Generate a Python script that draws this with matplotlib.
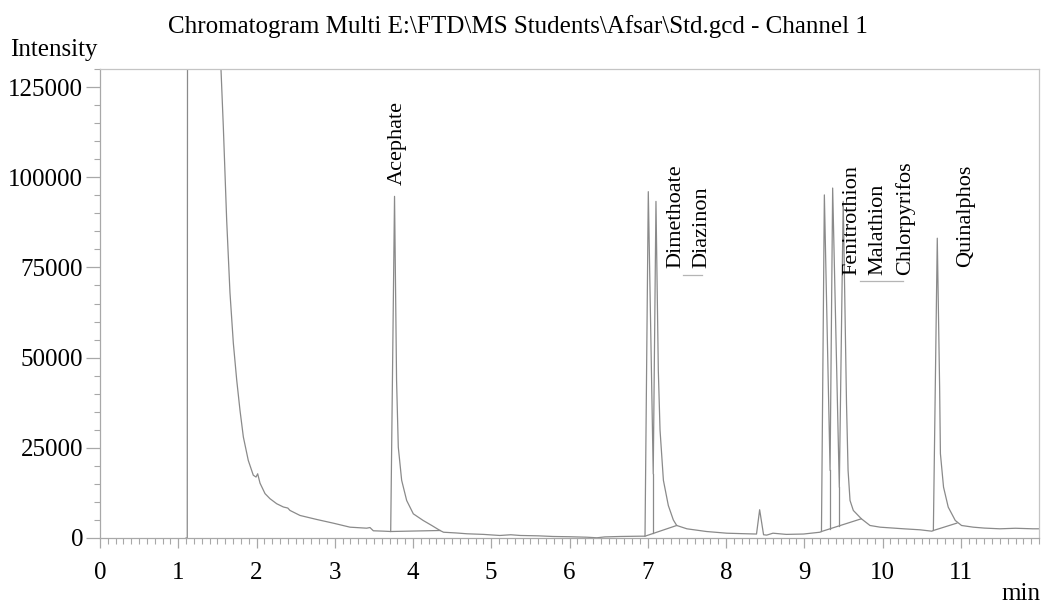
import matplotlib
matplotlib.use("Agg")
import matplotlib.pyplot as plt
from matplotlib.ticker import MultipleLocator

plt.rcParams["font.family"] = ["Liberation Serif", "DejaVu Serif"]

# trace: retention time (min) and detector intensity
times = [
    1.10, 1.115, 1.12, 1.53, 1.546, 1.576, 1.619, 1.661, 1.704, 1.747,
    1.789, 1.832, 1.895, 1.959, 1.994, 2.015, 2.045, 2.109, 2.172, 2.258,
    2.343, 2.40, 2.428, 2.556, 2.769, 2.98, 3.195, 3.408, 3.45, 3.493,
    3.62, 3.715, 3.764, 3.79, 3.812, 3.855, 3.919, 4.004, 4.13, 4.24,
    4.345, 4.39, 4.55, 4.69, 4.9, 5.11, 5.25, 5.37, 5.6, 5.79,
    6.0, 6.22, 6.35, 6.45, 6.645, 6.90, 6.965, 7.007, 7.07, 7.105,
    7.135, 7.157, 7.2, 7.263, 7.327, 7.37, 7.5, 7.75, 8.01, 8.26,
    8.39, 8.43, 8.48, 8.52, 8.6, 8.77, 8.99, 9.2, 9.22, 9.257,
    9.33, 9.363, 9.448, 9.498, 9.54, 9.56, 9.585, 9.627, 9.73, 9.84,
    9.97, 10.27, 10.48, 10.63, 10.65, 10.70, 10.73, 10.74, 10.78, 10.84,
    10.93, 11.01, 11.16, 11.3, 11.5, 11.7, 11.92, 12.0,
]
intensity = [
    0, 0, 200000, 200000, 130000, 114000, 88000, 68000, 54000, 43800,
    35400, 28000, 21500, 17400, 16900, 17800, 15200, 12300, 10900, 9500,
    8600, 8300, 7640, 6250, 5140, 4120, 3000, 2720, 2900, 2000,
    1900, 1800, 94700, 43750, 25200, 16000, 10400, 6700, 4860, 3470,
    2080, 1600, 1400, 1170, 1000, 700, 900, 700, 600, 420,
    350, 220, 60, 300, 420, 500, 500, 96000, 17800, 93300,
    46500, 29900, 16000, 9000, 5000, 3470, 2550, 1800, 1330, 1170,
    1100, 7830, 900, 800, 1330, 1000, 1100, 1600, 1800, 95100,
    18750, 97000, 14100, 93300, 37300, 18750, 10400, 7640, 5330, 3470,
    3000, 2550, 2270, 1890, 2080, 83100, 41900, 23400, 14100, 8560,
    4860, 3470, 3000, 2750, 2550, 2700, 2550, 2550,
]

# integration baselines (start, end) and peak drop lines (time, top)
baselines = [
    ((3.715, 1800), (4.345, 2080)),
    ((6.965, 500), (7.37, 3470)),
    ((9.22, 1800), (9.73, 5330)),
    ((10.65, 2080), (10.95, 4120)),
]
drop_times = [7.07, 9.33, 9.448]
drop_tops = [17800, 18750, 14100]

# peak names and where their text sits
peak_names = ["Acephate", "Dimethoate", "Diazinon", "Fenitrothion",
              "Malathion", "Chlorpyrifos", "Quinalphos"]
label_x = [3.80, 7.36, 7.69, 9.61, 9.94, 10.29, 11.065]
label_y = [97900, 74900, 74900, 72900, 72900, 72900, 75200]
leaders = [((7.45, 7.69), 73000), ((9.71, 10.26), 71300)]

trace_col = "#8a8a8a"
frame_col = "#a8a8a8"

fig = plt.figure(figsize=(10.42, 6.06), dpi=100)
ax = fig.add_axes([100 / 1042, 68 / 606, 939 / 1042, 469 / 606])

ax.plot(times, intensity, color=trace_col, lw=0.9)
for (x0, y0), (x1, y1) in baselines:
    ax.plot([x0, x1], [y0, y1], color=trace_col, lw=0.9)
for t, top in zip(drop_times, drop_tops):
    # find baseline height under the drop line
    for (x0, y0), (x1, y1) in baselines:
        if x0 <= t <= x1:
            base = y0 + (y1 - y0) * (t - x0) / (x1 - x0)
    ax.plot([t, t], [base, top], color=trace_col, lw=0.9)
for (x0, x1), y in leaders:
    ax.plot([x0, x1], [y, y], color="#b5b5b5", lw=0.9)

for name, x, y in zip(peak_names, label_x, label_y):
    ax.text(x, y, name, rotation=90, ha="center", va="bottom", fontsize=16)

ax.set_xlim(0, 12)
ax.set_ylim(0, 130000)
ax.set_xticks(range(0, 12))
ax.set_yticks([0, 25000, 50000, 75000, 100000, 125000])
ax.xaxis.set_minor_locator(MultipleLocator(0.1))
ax.yaxis.set_minor_locator(MultipleLocator(5000))

for side in ["top", "right"]:
    ax.spines[side].set_color("#c4c4c4")
for side in ["left", "bottom"]:
    ax.spines[side].set_color(frame_col)
for sp in ax.spines.values():
    sp.set_linewidth(0.9)

ax.tick_params(axis="y", which="major", length=10, width=0.9, color=frame_col,
               labelsize=18, pad=2)
ax.tick_params(axis="y", which="minor", length=4.5, width=0.8, color=frame_col)
ax.tick_params(axis="x", which="major", length=7, width=0.9, color=frame_col,
               labelsize=18, pad=10)
ax.tick_params(axis="x", which="minor", length=4, width=0.8, color=frame_col)

fig.text(0.497, 1 - 27 / 606,
         "Chromatogram Multi E:\\FTD\\MS Students\\Afsar\\Std.gcd - Channel 1",
         ha="center", va="center", fontsize=18)
fig.text(10 / 1042, 1 - 50 / 606, "Intensity", ha="left", va="center", fontsize=18)
fig.text(1040 / 1042, 1 - 594 / 606, "min", ha="right", va="center", fontsize=18)

fig.savefig("out.png", dpi=100)
